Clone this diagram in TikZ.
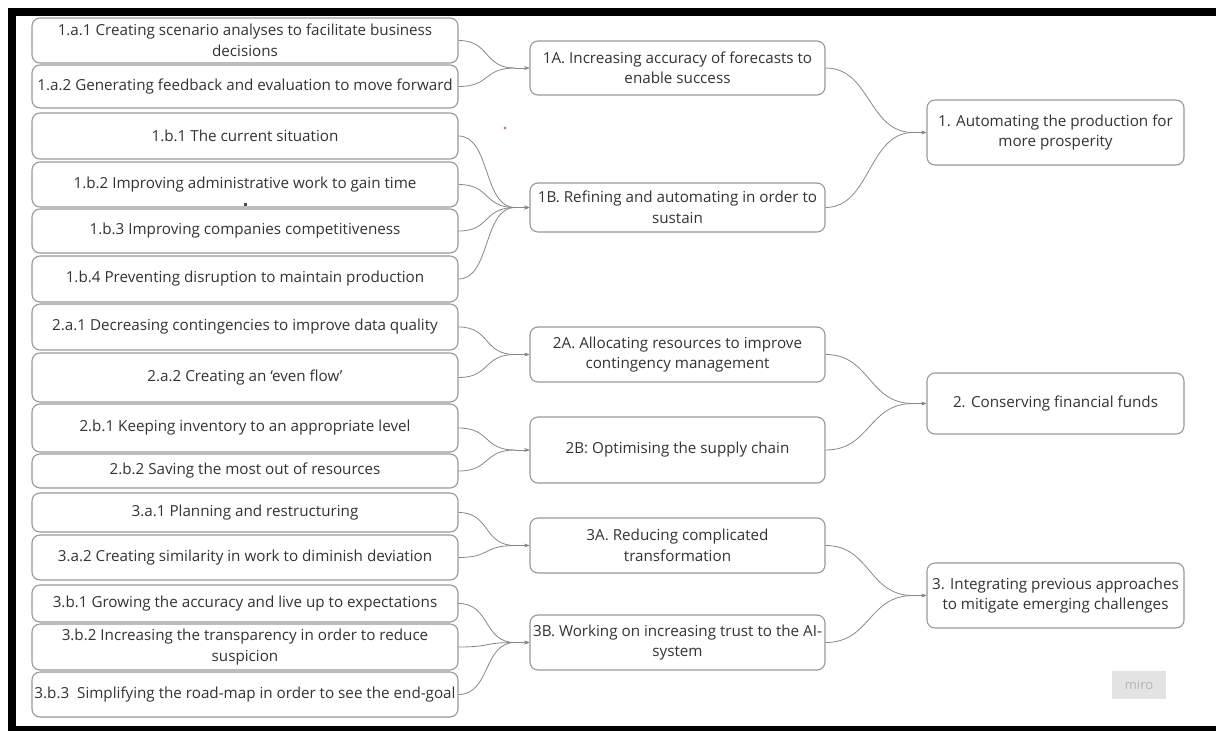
\documentclass[tikz,border=0pt]{standalone}
\usepackage{fontspec}
\setmainfont{Open Sans}
\usetikzlibrary{arrows.meta}
\definecolor{boxline}{HTML}{999999}
\definecolor{connline}{HTML}{888888}
\definecolor{txt}{HTML}{333333}
\definecolor{logobg}{HTML}{E3E3E3}
\definecolor{logotxt}{HTML}{B4B4B4}
\definecolor{dotred}{HTML}{E05070}
\begin{document}
\begin{tikzpicture}[x=1pt,y=-1pt,
  box/.style={draw=boxline,line width=1.1pt,rounded corners=8pt,fill=white,
    inner sep=0pt,align=center,text=txt,font=\fontsize{15.2}{20.5}\selectfont},
  lbox/.style={box,minimum width=426pt},
  mbox/.style={box,minimum width=295pt},
  rbox/.style={box,minimum width=257pt},
  conn/.style={draw=connline,line width=0.8pt},
  tip/.style={conn,-{Stealth[length=5pt,width=3.5pt]}}]
\useasboundingbox (0,0) rectangle (1216,731);
\fill[white] (0,0) rectangle (1216,731);
% black frame
\fill[black] (8,8) rectangle (1216,16);
\fill[black] (8,8) rectangle (16,731);
\fill[black] (8,726) rectangle (1216,731);

% left column
\node[lbox,minimum height=45pt] (a11) at (245,40.5) {1.a.1 Creating scenario analyses to facilitate business\\decisions};
\node[lbox,minimum height=43pt] (a12) at (245,86.5) {1.a.2 Generating feedback and evaluation to move forward};
\node[lbox,minimum height=46pt] (b11) at (245,136) {1.b.1 The current situation};
\node[lbox,minimum height=45pt] (b12) at (245,184.5) {1.b.2 Improving administrative work to gain time};
\node[lbox,minimum height=44pt] (b13) at (245,231) {1.b.3 Improving companies competitiveness};
\node[lbox,minimum height=46pt] (b14) at (245,279) {1.b.4 Preventing disruption to maintain production};
\node[lbox,minimum height=46pt] (c21) at (245,327) {2.a.1 Decreasing contingencies to improve data quality};
\node[lbox,minimum height=49pt] (c22) at (245,377.5) {2.a.2 Creating an `even flow'};
\node[lbox,minimum height=48pt] (d21) at (245,428) {2.b.1 Keeping inventory to an appropriate level};
\node[lbox,minimum height=34pt] (d22) at (245,471) {2.b.2 Saving the most out of resources};
\node[lbox,minimum height=39pt] (e31) at (245,512.5) {3.a.1 Planning and restructuring};
\node[lbox,minimum height=45pt] (e32) at (245,557.5) {3.a.2 Creating similarity in work to diminish deviation};
\node[lbox,minimum height=37pt] (f31) at (245,603.5) {3.b.1 Growing the accuracy and live up to expectations};
\node[lbox,minimum height=46pt] (f32) at (245,647) {3.b.2 Increasing the transparency in order to reduce\\suspicion};
\node[lbox,minimum height=45pt] (f33) at (245,694.5) {3.b.3\ \ Simplifying the road-map in order to see the end-goal};

% middle column
\node[mbox,minimum height=54pt] (m1a) at (677.5,68) {1A. Increasing accuracy of forecasts to\\enable success};
\node[mbox,minimum height=49pt] (m1b) at (677.5,207.5) {1B. Refining and automating in order to\\sustain};
\node[mbox,minimum height=55pt] (m2a) at (677.5,354.5) {2A. Allocating resources to improve\\contingency management};
\node[mbox,minimum height=66pt] (m2b) at (677.5,450) {2B: Optimising the supply chain};
\node[mbox,minimum height=55pt] (m3a) at (677.5,545.5) {3A. Reducing complicated\\transformation};
\node[mbox,minimum height=55pt] (m3b) at (677.5,642.5) {3B. Working on increasing trust to the AI-\\system};

% right column
\node[rbox,minimum height=65pt] (r1) at (1055.5,132.5) {1. Automating the production for\\more prosperity};
\node[rbox,minimum height=61pt] (r2) at (1055.5,403.5) {2. Conserving financial funds};
\node[rbox,minimum height=65pt] (r3) at (1055.5,595.5) {3. Integrating previous approaches\\to mitigate emerging challenges};

% junction points
\coordinate (j1a) at (515,68);
\coordinate (j1b) at (515,207.5);
\coordinate (j2a) at (515,354.5);
\coordinate (j2b) at (515,450);
\coordinate (j3a) at (515,545.5);
\coordinate (j3b) at (515,642.5);
\coordinate (jr1) at (913,132.5);
\coordinate (jr2) at (913,403.5);
\coordinate (jr3) at (913,595.5);

% left -> middle
\foreach \s/\j/\t in {a11/j1a/m1a,a12/j1a/m1a,
                     b11/j1b/m1b,b12/j1b/m1b,b13/j1b/m1b,b14/j1b/m1b,
                     c21/j2a/m2a,c22/j2a/m2a,
                     d21/j2b/m2b,d22/j2b/m2b,
                     e31/j3a/m3a,e32/j3a/m3a,
                     f31/j3b/m3b,f32/j3b/m3b,f33/j3b/m3b}{
  \draw[conn] (\s.east) .. controls +(32,0) and +(-32,0) .. (\j);
  \draw[tip] (\j) -- (\t.west);
}
% middle -> right
\foreach \s/\j/\t in {m1a/jr1/r1,m1b/jr1/r1,m2a/jr2/r2,m2b/jr2/r2,m3a/jr3/r3,m3b/jr3/r3}{
  \draw[conn] (\s.east) .. controls +(45,0) and +(-45,0) .. (\j);
  \draw[tip] (\j) -- (\t.west);
}

% small marks
\fill[dotred] (505,128) circle (1.3pt);
\fill[black!70] (243.5,203) rectangle (246.5,206);

% miro logo
\node[fill=logobg,minimum width=54pt,minimum height=28pt,inner sep=0pt,
  text=logotxt,font=\fontsize{13}{15}\selectfont] (miro) at (1139,685) {miro};
\end{tikzpicture}
\end{document}
